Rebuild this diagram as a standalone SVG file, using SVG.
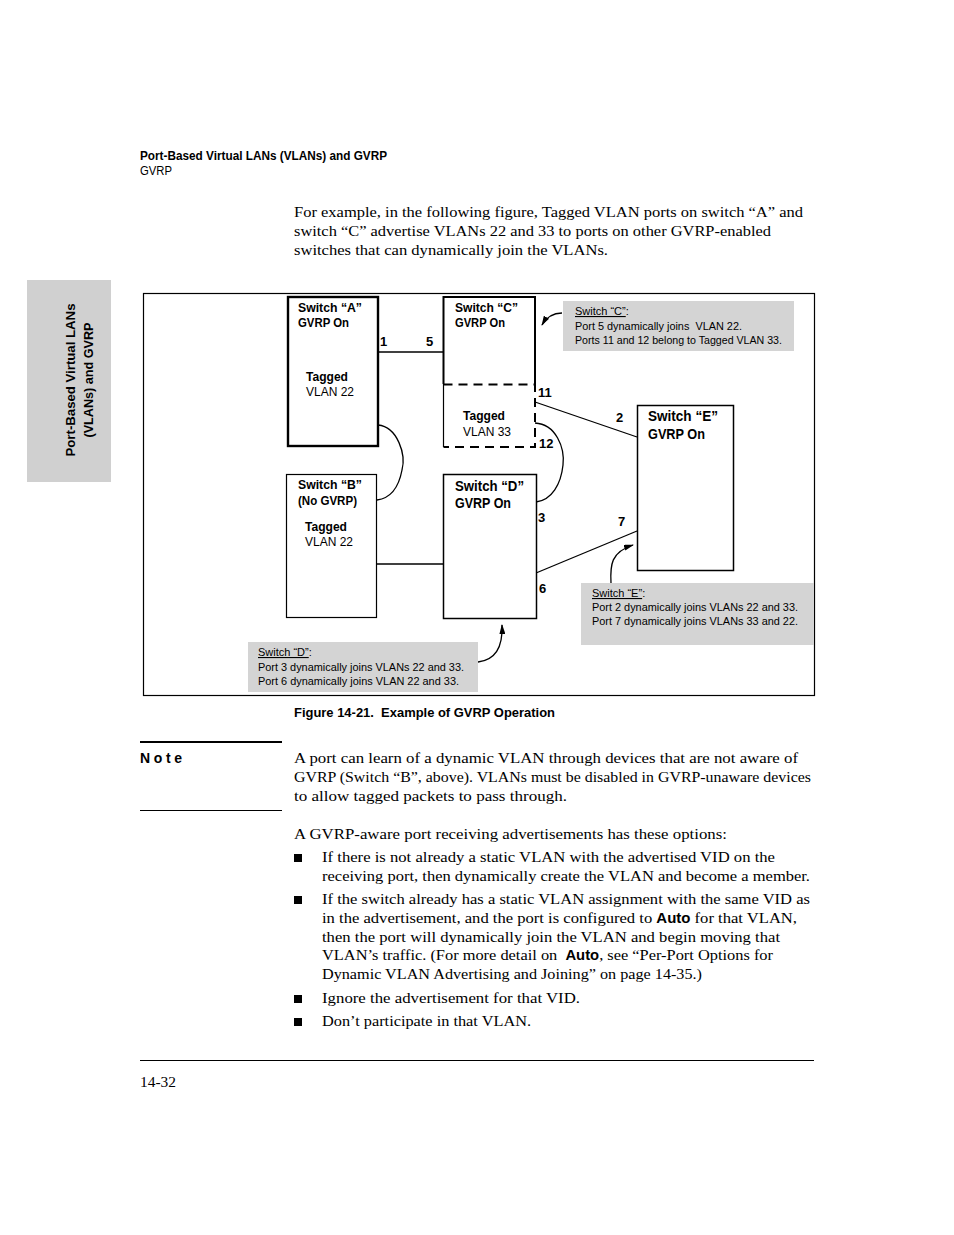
<svg xmlns="http://www.w3.org/2000/svg" width="954" height="1235" viewBox="0 0 954 1235">
<style>
.sans{font-family:"Liberation Sans",Arial,sans-serif;fill:#000}
.b{font-weight:bold}
.serif{font-family:"Liberation Serif","Times New Roman",serif;font-size:15.5px;fill:#000}
.lbl{font-size:12.5px}
.big{font-size:14px}
.small{font-size:11px}
.pre{white-space:pre}
.port{font-family:"Liberation Sans",Arial,sans-serif;font-weight:bold;font-size:13px}
.box{fill:#fff;stroke:#000}
.call{fill:#d4d4d4}
.wire{fill:none;stroke:#000;stroke-width:1.3}
.arr{fill:none;stroke:#000;stroke-width:1.3;marker-end:url(#ah)}
</style>
<defs>
<marker id="ah" viewBox="0 0 10 6" refX="9" refY="3" markerWidth="10" markerHeight="6" markerUnits="userSpaceOnUse" orient="auto">
<path d="M0,0 L10,3 L0,6 Z" fill="#000"/>
</marker>
</defs>
<rect width="954" height="1235" fill="#fff"/>

<g id="header">
<text class="sans b" x="140" y="160" font-size="12.5" textLength="247" lengthAdjust="spacingAndGlyphs">Port-Based Virtual LANs (VLANs) and GVRP</text>
<text class="sans" x="140" y="175" font-size="12.5" textLength="32" lengthAdjust="spacingAndGlyphs">GVRP</text>
</g>

<g id="sidetab">
<rect x="27" y="280" width="84" height="202" fill="#d0d0d0"/>
<text class="sans b" font-size="13" text-anchor="middle" transform="translate(75,380) rotate(-90)" textLength="153" lengthAdjust="spacingAndGlyphs">Port-Based Virtual LANs</text>
<text class="sans b" font-size="13" text-anchor="middle" transform="translate(93,380) rotate(-90)" textLength="115" lengthAdjust="spacingAndGlyphs">(VLANs) and GVRP</text>
</g>

<g id="intro">
<text class="serif" x="294" y="217" textLength="509" lengthAdjust="spacingAndGlyphs">For example, in the following figure, Tagged VLAN ports on switch “A” and</text>
<text class="serif" x="294" y="236" textLength="477" lengthAdjust="spacingAndGlyphs">switch “C” advertise VLANs 22 and 33 to ports on other GVRP-enabled</text>
<text class="serif" x="294" y="255" textLength="314" lengthAdjust="spacingAndGlyphs">switches that can dynamically join the VLANs.</text>
</g>

<g id="frame">
<rect x="143.5" y="293.5" width="671" height="402" fill="none" stroke="#000" stroke-width="1.2"/>
</g>

<g id="connectors">
<line class="wire" x1="378" y1="352" x2="444" y2="352"/>
<line class="wire" x1="376" y1="564" x2="443" y2="564"/>
<line class="wire" x1="535" y1="402" x2="637" y2="437"/>
<line class="wire" x1="536" y1="573" x2="637" y2="531"/>
<path class="wire" d="M378,425 C398,427 406,455 402,470 C399,486 392,498 377,500"/>
<path class="wire" d="M535,423 C556,424 565,448 563,465 C561,484 552,500 536,502"/>
<path class="arr" d="M562,313 C553,313 546,318 542,325"/>
<path class="arr" d="M611,583 C610,565 611,552 633,545"/>
<path class="arr" d="M478,662 C495,660 503,648 502,625"/>
</g>

<g id="switchA">
<rect class="box" x="288" y="297" width="90" height="149" stroke-width="2.4"/>
<text class="sans b lbl" x="298" y="312" textLength="64" lengthAdjust="spacingAndGlyphs">Switch “A”</text>
<text class="sans b lbl" x="298" y="327" textLength="51" lengthAdjust="spacingAndGlyphs">GVRP On</text>
<text class="sans b lbl" x="306" y="381" textLength="42" lengthAdjust="spacingAndGlyphs">Tagged</text>
<text class="sans lbl" x="306" y="396" textLength="48" lengthAdjust="spacingAndGlyphs">VLAN 22</text>
<text class="port" x="380" y="346">1</text>
</g>

<g id="switchC">
<rect x="443" y="296" width="92" height="151" fill="#fff"/>
<path d="M443.5,384 V297 H535 V384" fill="none" stroke="#000" stroke-width="2"/>
<path d="M443.5,384 V447" fill="none" stroke="#000" stroke-width="1.2"/>
<path d="M443.5,384.5 H535 V447 H443.5" fill="none" stroke="#000" stroke-width="2" stroke-dasharray="9,6"/>
<text class="sans b lbl" x="455" y="312" textLength="63" lengthAdjust="spacingAndGlyphs">Switch “C”</text>
<text class="sans b lbl" x="455" y="327" textLength="50" lengthAdjust="spacingAndGlyphs">GVRP On</text>
<text class="sans b lbl" x="463" y="420" textLength="42" lengthAdjust="spacingAndGlyphs">Tagged</text>
<text class="sans lbl" x="463" y="436" textLength="48" lengthAdjust="spacingAndGlyphs">VLAN 33</text>
<text class="port" x="426" y="346">5</text>
<text class="port" x="538" y="397">11</text>
<text class="port" x="539" y="448">12</text>
</g>

<g id="switchB">
<rect class="box" x="286.5" y="474.5" width="90" height="143" stroke-width="1.2"/>
<text class="sans b lbl" x="298" y="489" textLength="64" lengthAdjust="spacingAndGlyphs">Switch “B”</text>
<text class="sans b lbl" x="298" y="505" textLength="59" lengthAdjust="spacingAndGlyphs">(No GVRP)</text>
<text class="sans b lbl" x="305" y="531" textLength="42" lengthAdjust="spacingAndGlyphs">Tagged</text>
<text class="sans lbl" x="305" y="546" textLength="48" lengthAdjust="spacingAndGlyphs">VLAN 22</text>
</g>

<g id="switchD">
<rect class="box" x="443.5" y="474.5" width="93" height="144" stroke-width="1.5"/>
<text class="sans b big" x="455" y="491" textLength="69" lengthAdjust="spacingAndGlyphs">Switch “D”</text>
<text class="sans b big" x="455" y="508" textLength="56" lengthAdjust="spacingAndGlyphs">GVRP On</text>
<text class="port" x="538" y="522">3</text>
<text class="port" x="539" y="593">6</text>
</g>

<g id="switchE">
<rect class="box" x="637.5" y="405.5" width="96" height="165" stroke-width="1.5"/>
<text class="sans b big" x="648" y="421" textLength="70" lengthAdjust="spacingAndGlyphs">Switch “E”</text>
<text class="sans b big" x="648" y="439" textLength="57" lengthAdjust="spacingAndGlyphs">GVRP On</text>
<text class="port" x="616" y="422">2</text>
<text class="port" x="618" y="526">7</text>
</g>

<g id="calloutC">
<rect class="call" x="563" y="301" width="231" height="50"/>
<text class="sans small" x="575" y="315"><tspan text-decoration="underline">Switch “C”</tspan>:</text>
<text class="sans small pre" x="575" y="330" textLength="167" lengthAdjust="spacingAndGlyphs">Port 5 dynamically joins  VLAN 22.</text>
<text class="sans small" x="575" y="344" textLength="207" lengthAdjust="spacingAndGlyphs">Ports 11 and 12 belong to Tagged VLAN 33.</text>
</g>

<g id="calloutE">
<rect class="call" x="581" y="583" width="233" height="62"/>
<text class="sans small" x="592" y="597"><tspan text-decoration="underline">Switch “E”</tspan>:</text>
<text class="sans small" x="592" y="611" textLength="206" lengthAdjust="spacingAndGlyphs">Port 2 dynamically joins VLANs 22 and 33.</text>
<text class="sans small" x="592" y="625" textLength="206" lengthAdjust="spacingAndGlyphs">Port 7 dynamically joins VLANs 33 and 22.</text>
</g>

<g id="calloutD">
<rect class="call" x="248" y="642" width="230" height="50"/>
<text class="sans small" x="258" y="656"><tspan text-decoration="underline">Switch “D”</tspan>:</text>
<text class="sans small" x="258" y="671" textLength="206" lengthAdjust="spacingAndGlyphs">Port 3 dynamically joins VLANs 22 and 33.</text>
<text class="sans small" x="258" y="685" textLength="201" lengthAdjust="spacingAndGlyphs">Port 6 dynamically joins VLAN 22 and 33.</text>
</g>

<g id="caption">
<text class="sans b pre" x="294" y="717" font-size="13" textLength="261" lengthAdjust="spacingAndGlyphs">Figure 14-21.  Example of GVRP Operation</text>
</g>

<g id="note">
<line x1="140" y1="742" x2="282" y2="742" stroke="#000" stroke-width="2"/>
<line x1="140" y1="810.5" x2="282" y2="810.5" stroke="#000" stroke-width="1"/>
<text class="sans b" x="140" y="763" font-size="14" textLength="42" lengthAdjust="spacing">Note</text>
<text class="serif" x="294" y="763" textLength="504" lengthAdjust="spacingAndGlyphs">A port can learn of a dynamic VLAN through devices that are not aware of</text>
<text class="serif" x="294" y="782" textLength="517" lengthAdjust="spacingAndGlyphs">GVRP (Switch “B”, above). VLANs must be disabled in GVRP-unaware devices</text>
<text class="serif" x="294" y="801" textLength="273" lengthAdjust="spacingAndGlyphs">to allow tagged packets to pass through.</text>
</g>

<g id="options">
<text class="serif" x="294" y="839" textLength="433" lengthAdjust="spacingAndGlyphs">A GVRP-aware port receiving advertisements has these options:</text>
<rect x="294" y="854" width="8" height="8"/>
<text class="serif" x="322" y="862" textLength="453" lengthAdjust="spacingAndGlyphs">If there is not already a static VLAN with the advertised VID on the</text>
<text class="serif" x="322" y="881" textLength="488" lengthAdjust="spacingAndGlyphs">receiving port, then dynamically create the VLAN and become a member.</text>
<rect x="294" y="896" width="8" height="8"/>
<text class="serif" x="322" y="904" textLength="488" lengthAdjust="spacingAndGlyphs">If the switch already has a static VLAN assignment with the same VID as</text>
<text class="serif" x="322" y="923" textLength="475" lengthAdjust="spacingAndGlyphs">in the advertisement, and the port is configured to <tspan font-family="Liberation Sans, Arial, sans-serif" font-weight="bold" font-size="14">Auto</tspan> for that VLAN,</text>
<text class="serif" x="322" y="942" textLength="458" lengthAdjust="spacingAndGlyphs">then the port will dynamically join the VLAN and begin moving that</text>
<text class="serif pre" x="322" y="960" textLength="451" lengthAdjust="spacingAndGlyphs">VLAN’s traffic. (For more detail on  <tspan font-family="Liberation Sans, Arial, sans-serif" font-weight="bold" font-size="14">Auto</tspan>, see “Per-Port Options for</text>
<text class="serif" x="322" y="979" textLength="380" lengthAdjust="spacingAndGlyphs">Dynamic VLAN Advertising and Joining” on page 14-35.)</text>
<rect x="294" y="995" width="8" height="8"/>
<text class="serif" x="322" y="1003" textLength="258" lengthAdjust="spacingAndGlyphs">Ignore the advertisement for that VID.</text>
<rect x="294" y="1018" width="8" height="8"/>
<text class="serif" x="322" y="1026" textLength="209" lengthAdjust="spacingAndGlyphs">Don’t participate in that VLAN.</text>
</g>

<g id="footer">
<line x1="140" y1="1060.5" x2="814" y2="1060.5" stroke="#000" stroke-width="1"/>
<text class="serif" x="140" y="1087" font-size="15" textLength="36" lengthAdjust="spacingAndGlyphs">14-32</text>
</g>
</svg>
